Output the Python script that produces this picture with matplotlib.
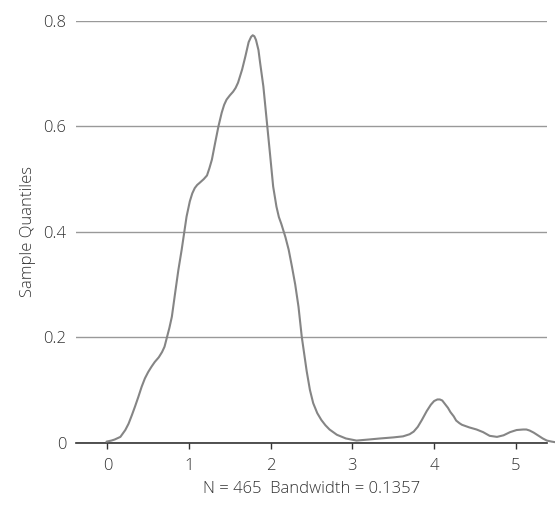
import matplotlib
matplotlib.use("Agg")
import matplotlib.pyplot as plt

# density curve
x_vals = [-0.01, 0.05, 0.09, 0.16, 0.22, 0.26, 0.30, 0.34, 0.38, 0.42, 0.46, 0.50, 0.54, 0.58, 0.63, 0.67, 0.70, 0.73,
          0.76, 0.79, 0.83, 0.87, 0.91, 0.95, 0.97, 1.01, 1.04, 1.07, 1.10, 1.13, 1.18, 1.22, 1.25, 1.28, 1.32, 1.36,
          1.40, 1.43, 1.46, 1.50, 1.54, 1.57, 1.60, 1.65, 1.69, 1.73, 1.76, 1.78, 1.80, 1.82, 1.85, 1.87, 1.91, 1.95, 1.99,
          2.03, 2.07, 2.10, 2.13, 2.18, 2.22, 2.26, 2.30, 2.34, 2.38, 2.44, 2.48, 2.52, 2.57, 2.62, 2.67, 2.72, 2.81,
          2.92, 3.05, 3.20, 3.34, 3.50, 3.62, 3.70, 3.75, 3.80, 3.85, 3.91, 3.96, 4.00, 4.04, 4.07, 4.10, 4.13, 4.17, 4.20,
          4.24, 4.27, 4.31, 4.34, 4.43, 4.52, 4.60, 4.68, 4.77, 4.85, 4.93, 5.01, 5.09, 5.13, 5.17, 5.22, 5.26,
          5.30, 5.33, 5.38, 5.44, 5.48]
y_vals = [0.002, 0.004, 0.006, 0.011, 0.024, 0.036, 0.052, 0.069, 0.087, 0.106, 0.122, 0.134, 0.144, 0.153, 0.162, 0.172, 0.182, 0.200,
          0.218, 0.239, 0.284, 0.328, 0.366, 0.408, 0.429, 0.458, 0.473, 0.483, 0.489, 0.493, 0.500, 0.507, 0.521, 0.537, 0.569, 0.600,
          0.626, 0.641, 0.651, 0.659, 0.666, 0.673, 0.683, 0.708, 0.733, 0.760, 0.770, 0.773, 0.771, 0.764, 0.745, 0.721, 0.676, 0.613, 0.550,
          0.486, 0.448, 0.428, 0.415, 0.390, 0.366, 0.334, 0.300, 0.258, 0.201, 0.136, 0.100, 0.075, 0.056, 0.043, 0.033, 0.025, 0.015,
          0.008, 0.004, 0.006, 0.008, 0.010, 0.012, 0.016, 0.021, 0.030, 0.043, 0.060, 0.072, 0.079, 0.082, 0.082, 0.080, 0.074, 0.066, 0.058,
          0.050, 0.042, 0.037, 0.034, 0.029, 0.025, 0.020, 0.013, 0.011, 0.014, 0.020, 0.024, 0.025, 0.025, 0.023, 0.019, 0.015,
          0.011, 0.008, 0.004, 0.002, 0.001]

x_ticks = [0, 1, 2, 3, 4, 5]
y_ticks = [0, 0.2, 0.4, 0.6, 0.8]
y_tick_labels = ["0", "0.2", "0.4", "0.6", "0.8"]

plt.rcParams['font.family'] = ['Open Sans', 'DejaVu Sans']

fig = plt.figure(figsize=(5.55, 5.09), dpi=100)
ax = fig.add_axes([0.137, 0.1303, 0.848, 0.8284])

ax.plot(x_vals, y_vals, color="#858585", lw=1.5, clip_on=False, zorder=3,
        solid_joinstyle="round", solid_capstyle="round")

ax.set_xlim(-0.383, 5.378)
ax.set_ylim(0, 0.8)

ax.set_yticks(y_ticks)
ax.set_yticklabels(y_tick_labels)
ax.set_xticks(x_ticks)
ax.grid(axis="y", color="#999999", lw=1.0)
ax.set_axisbelow(True)

for s in ["left", "right", "top"]:
    ax.spines[s].set_visible(False)
ax.spines["bottom"].set_color("#333333")
ax.spines["bottom"].set_linewidth(1.2)

ax.tick_params(axis="y", length=0, pad=7, labelsize=12, labelcolor="#333333")
ax.tick_params(axis="x", length=4, width=1, color="#333333", pad=7, labelsize=12, labelcolor="#333333")
for lab in ax.get_xticklabels() + ax.get_yticklabels():
    lab.set_fontweight("light")

ax.set_xlabel("N = 465  Bandwidth = 0.1357", fontsize=12, color="#333333", labelpad=5, fontweight="light")
ax.set_ylabel("Sample Quantiles", fontsize=12, color="#333333", labelpad=5.5, fontweight="light")

fig.savefig("out.png", dpi=100)
